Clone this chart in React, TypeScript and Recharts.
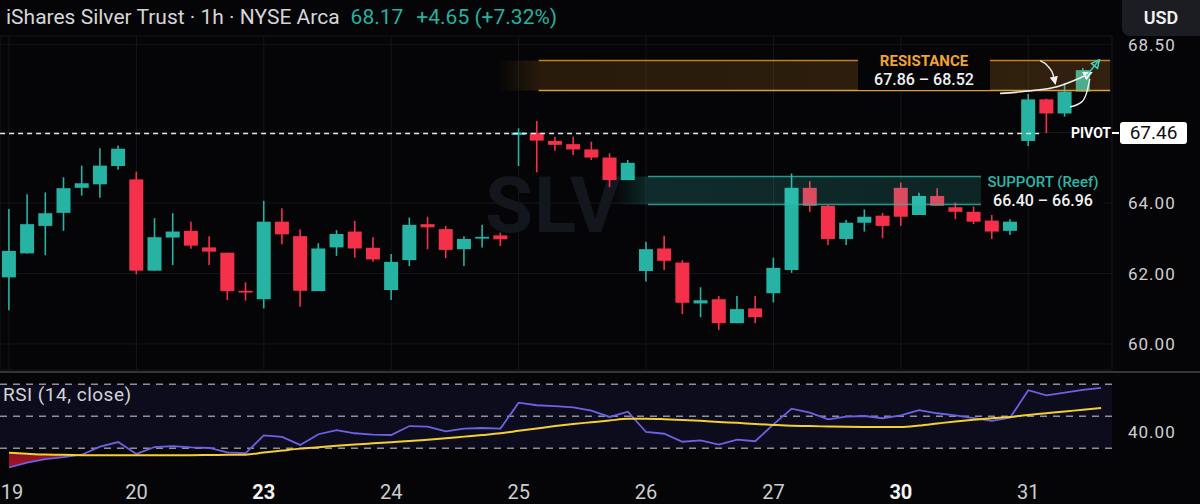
import React from 'react';
import {
  ComposedChart,
  Bar,
  Line,
  Area,
  XAxis,
  YAxis,
  CartesianGrid,
  ReferenceArea,
  ReferenceLine,
} from 'recharts';

// sessions on the time axis, 7 hourly bars each (the last one is still open)
const sessionLabels = ['19', '20', '23', '24', '25', '26', '27', '30', '31'];
const weekStartLabels = ['23', '30'];
const barsPerSession = 7;

const opens = [
  61.89, 62.57, 63.35, 63.72, 64.43, 64.53, 65.05,
  64.67, 62.08, 63.02, 63.21, 62.74, 62.59, 61.51,
  61.27, 63.47, 63.06, 61.5, 62.74, 63.19, 62.73,
  61.53, 62.38, 63.4, 63.26, 62.69, 62.99, 63.08,
  65.93, 65.99, 65.76, 65.67, 65.52, 65.29, 64.65,
  62.07, 62.71, 62.31, 61.15, 61.27, 60.59, 61.01,
  61.44, 62.1, 64.43, 63.92, 62.98, 63.44, 63.64,
  64.43, 63.66, 64.2, 63.88, 63.75, 63.5, 63.21,
  65.76, 66.94, 66.54, 67.16,
];
const highs = [
  63.83, 64.25, 64.3, 64.73, 65.06, 65.55, 65.63,
  64.89, 63.57, 63.71, 63.47, 63.06, 62.59, 61.75,
  64.06, 63.85, 63.25, 62.86, 63.23, 63.49, 63.03,
  62.55, 63.59, 63.61, 63.35, 63.06, 63.38, 63.16,
  66.12, 66.33, 65.88, 65.88, 65.74, 65.41, 65.22,
  62.9, 63.07, 62.38, 61.61, 61.36, 61.36, 61.36,
  62.45, 64.84, 64.62, 63.95, 63.52, 63.82, 63.72,
  64.58, 64.29, 64.42, 64.01, 63.9, 63.66, 63.54,
  67.09, 66.96, 67.4, 67.83,
];
const lows = [
  60.96, 62.57, 62.52, 63.21, 64.21, 64.15, 64.94,
  61.98, 62.08, 62.24, 62.7, 62.24, 61.25, 61.23,
  61.01, 62.83, 61.06, 61.5, 62.5, 62.45, 62.33,
  61.25, 62.21, 62.69, 62.44, 62.21, 62.74, 62.78,
  65.05, 64.87, 65.48, 65.36, 65.22, 64.45, 64.65,
  61.77, 62.1, 60.85, 60.76, 60.4, 60.59, 60.59,
  61.18, 62.02, 63.75, 62.81, 62.81, 63.19, 63.0,
  63.35, 63.66, 63.92, 63.54, 63.4, 62.98, 63.09,
  65.62, 65.98, 66.45, 67.16,
];
const closes = [
  62.64, 63.4, 63.71, 64.42, 64.56, 65.06, 65.54,
  62.08, 63.03, 63.19, 62.79, 62.62, 61.5, 61.46,
  63.47, 63.11, 61.51, 62.71, 63.12, 62.71, 62.4,
  62.33, 63.38, 63.31, 62.67, 62.98, 63.04, 62.97,
  66.0, 65.77, 65.65, 65.52, 65.29, 64.65, 65.14,
  62.69, 62.36, 61.17, 61.24, 60.59, 60.99, 60.76,
  62.16, 64.43, 63.92, 62.98, 63.44, 63.61, 63.35,
  63.61, 64.2, 63.92, 63.75, 63.47, 63.19, 63.47,
  66.94, 66.54, 67.16, 67.77,
];

const rsiValues = [
  18, 21, 23.3, 24.5, 26, 31, 33.9,
  26.5, 30.8, 31.4, 30.6, 30.2, 27.5, 27,
  38.1, 37.1, 32.1, 38.8, 41.3, 39.4, 38.5,
  38.3, 43.9, 43.5, 40.6, 42.3, 42.7, 42.3,
  58.5, 56.9, 56.4, 55.6, 53.5, 49.6, 52.9,
  40.2, 39.1, 34.1, 35, 32.3, 35.4, 34.4,
  45, 54.8, 52.3, 48.1, 49.8, 50.2, 48.8,
  50.6, 53.9, 51.9, 50.6, 48.8, 47.1, 49.1,
  66.3, 63.1, 64.8, 66.5, 67.8,
];
const rsiAverage = [
  27.2, 26.6, 26.1, 25.9, 25.7, 25.6, 25.6,
  25.6, 25.6, 25.7, 25.7, 25.8, 25.9, 26.0,
  27.4, 28.6, 29.8, 30.7, 31.6, 32.4, 33.1,
  33.8, 34.5, 35.4, 36.3, 37.3, 38.3, 39.4,
  40.9, 42.4, 43.9, 45.2, 46.3, 47.4, 48.4,
  48.5, 48.2, 47.7, 47.2, 46.5, 45.9, 45.2,
  44.6, 44.1, 43.9, 43.6, 43.4, 43.3, 43.3,
  43.3, 44.2, 45.5, 46.8, 47.9, 48.8, 49.6,
  50.8, 51.9, 53.0, 54.1, 55.2,
];

const priceTicks = [60, 62, 64, 66, 68.5];
const rsiTicks = [40];
const rsiLevels = [70, 50, 30];
const oversoldLevel = 30;

const titleText = 'iShares Silver Trust · 1h · NYSE Arca';
const lastPrice = '68.17';
const lastChange = '+4.65 (+7.32%)';

// annotation zones, in bar index / price units as drawn on the picture
const resistanceZone = { title: 'RESISTANCE', text: '67.86 – 68.52', fadeFrom: 26.8, from: 29.1, to: 60.5, low: 67.19, high: 68.04 };
const supportZone = { title: 'SUPPORT (Reef)', text: '66.40 – 66.96', fadeFrom: 33.2, from: 35.1, to: 53.4, low: 63.96, high: 64.75 };
const pivot = { label: 'PIVOT', text: '67.46', level: 65.97, to: 56.6 };

const arrowUpper = [
  { x: 54.45, y: 67.11 }, { x: 56.26, y: 67.19 }, { x: 57.58, y: 67.3 }, { x: 58.68, y: 67.51 }, { x: 59.4, y: 67.68 },
];
const arrowLower = [
  { x: 58.3, y: 66.73 }, { x: 58.94, y: 66.87 }, { x: 59.25, y: 67.21 }, { x: 59.38, y: 67.52 },
];
const arrowDown = [
  { x: 56.65, y: 68.04 }, { x: 57.1, y: 67.87 }, { x: 57.37, y: 67.63 }, { x: 57.47, y: 67.42 },
];
const arrowTeal = [
  { x: 59.18, y: 67.6 }, { x: 59.84, y: 68.02 },
];

const UP = '#26b3a3';
const DOWN = '#f5304b';
const X_DOMAIN: [number, number] = [-0.4945, 60.6];

const candles = opens.map((o, i) => ({
  x: i,
  o,
  h: highs[i],
  l: lows[i],
  c: closes[i],
  range: [lows[i], highs[i]],
}));

const rsiData = rsiValues.map((v, i) => {
  const ma = rsiAverage[i];
  const dip = v < oversoldLevel && v < ma;
  return { x: i, rsi: v, ma, oversold: dip ? [v, ma] : [ma, ma] };
});

const sessionTicks = sessionLabels.map((_, i) => i * barsPerSession);

const Candle = (props: any) => {
  const { x, y, width, height, payload } = props;
  if (x == null || y == null || !payload) return null;
  const { o, h, l, c } = payload;
  const color = c >= o ? UP : DOWN;
  const top = Math.min(y, y + height);
  const span = Math.abs(height);
  const py = (v: number) => (h === l ? top : top + ((h - v) / (h - l)) * span);
  const bodyTop = py(Math.max(o, c));
  const bodyBottom = py(Math.min(o, c));
  const cx = x + width / 2;
  return (
    <g>
      <line x1={cx} x2={cx} y1={top} y2={top + span} stroke={color} strokeWidth={1.6} />
      <rect x={x} y={bodyTop} width={width} height={Math.max(bodyBottom - bodyTop, 1.6)} fill={color} />
    </g>
  );
};

const PriceTick = (props: any) => {
  const { x, y, payload } = props;
  return (
    <text x={x} y={y} dy="0.36em" fill="#d0d0d4" fontSize={17} letterSpacing={1}>
      {Number(payload.value).toFixed(2)}
    </text>
  );
};

const DayTick = (props: any) => {
  const { x, y, payload } = props;
  const label = sessionLabels[Math.round(payload.value / barsPerSession)];
  const bold = weekStartLabels.includes(label);
  return (
    <text
      x={Math.max(x, 12)}
      y={y + 20}
      dy="0.36em"
      textAnchor="middle"
      fontSize={20}
      fontWeight={bold ? 700 : 400}
      fill={bold ? '#f4f4f4' : '#cdcdd0'}
    >
      {label}
    </text>
  );
};

export default function App() {
  return (
    <div
      style={{
        position: 'absolute',
        left: 0,
        top: 0,
        width: 1200,
        height: 504,
        overflow: 'hidden',
        background: '#050507',
        fontFamily: 'Roboto, "Noto Sans", sans-serif',
      }}
    >
      <style>{'body{margin:0;background:#050507}'}</style>

      <div
        style={{
          position: 'absolute',
          left: 485,
          top: 160,
          fontSize: 78,
          fontWeight: 700,
          color: '#13161c',
          letterSpacing: 1,
        }}
      >
        SLV
      </div>

      <div style={{ position: 'absolute', left: 0, top: 0 }}>
        <ComposedChart width={1200} height={372} data={candles} margin={{ top: 36, right: 0, bottom: 2, left: 0 }}>
          <defs>
            <linearGradient id="resFill" x1="0" y1="0" x2="1" y2="0">
              <stop offset="0" stopColor="rgb(235,150,40)" stopOpacity={0} />
              <stop offset="0.07" stopColor="rgb(235,150,40)" stopOpacity={0.15} />
              <stop offset="1" stopColor="rgb(235,150,40)" stopOpacity={0.19} />
            </linearGradient>
            <linearGradient id="supFill" x1="0" y1="0" x2="1" y2="0">
              <stop offset="0" stopColor="rgb(65,230,220)" stopOpacity={0} />
              <stop offset="0.1" stopColor="rgb(65,230,220)" stopOpacity={0.17} />
              <stop offset="1" stopColor="rgb(65,230,220)" stopOpacity={0.14} />
            </linearGradient>
            <marker id="headWhite" viewBox="0 0 10 10" refX="7" refY="5" markerWidth="6" markerHeight="6" orient="auto">
              <path d="M0,0 L10,5 L0,10 z" fill="#f2f2f2" />
            </marker>
            <marker id="headTeal" viewBox="0 0 10 10" refX="7" refY="5" markerWidth="7" markerHeight="7" orient="auto">
              <path d="M1,1 L9,5 L1,9 z" fill="none" stroke="#3fd6c4" strokeWidth={1.5} />
            </marker>
          </defs>
          <CartesianGrid stroke="#14161b" strokeWidth={1} />
          <XAxis
            dataKey="x"
            type="number"
            domain={X_DOMAIN}
            ticks={sessionTicks}
            allowDataOverflow
            hide
          />
          <XAxis xAxisId="ann" dataKey="x" type="number" domain={X_DOMAIN} allowDataOverflow hide />
          <YAxis
            orientation="right"
            width={88}
            domain={[59.262, 68.738]}
            ticks={priceTicks}
            allowDataOverflow
            axisLine={false}
            tickLine={false}
            tickSize={0}
            tickMargin={16}
            tick={<PriceTick />}
          />
          <Bar dataKey="range" barSize={14} shape={<Candle />} isAnimationActive={false} />

          <ReferenceArea
            x1={resistanceZone.fadeFrom}
            x2={resistanceZone.to}
            y1={resistanceZone.low}
            y2={resistanceZone.high}
            fill="url(#resFill)"
            fillOpacity={1}
            stroke="none"
            ifOverflow="visible"
            zIndex={350}
          />
          <ReferenceLine
            segment={[{ x: resistanceZone.from, y: resistanceZone.high }, { x: resistanceZone.to, y: resistanceZone.high }]}
            stroke="#c47d24"
            strokeWidth={1.5}
            ifOverflow="visible"
          />
          <ReferenceLine
            segment={[{ x: resistanceZone.from, y: resistanceZone.low }, { x: resistanceZone.to, y: resistanceZone.low }]}
            stroke="#dc9c40"
            strokeWidth={1.5}
            ifOverflow="visible"
          />

          <ReferenceArea
            x1={supportZone.fadeFrom}
            x2={supportZone.to}
            y1={supportZone.low}
            y2={supportZone.high}
            fill="url(#supFill)"
            fillOpacity={1}
            stroke="none"
            ifOverflow="visible"
            zIndex={350}
          />
          <ReferenceLine
            segment={[{ x: supportZone.from, y: supportZone.high }, { x: supportZone.to, y: supportZone.high }]}
            stroke="#2fb7a8"
            strokeOpacity={0.8}
            strokeWidth={1.5}
            ifOverflow="visible"
          />
          <ReferenceLine
            segment={[{ x: supportZone.from, y: supportZone.low }, { x: supportZone.to, y: supportZone.low }]}
            stroke="#2fb7a8"
            strokeOpacity={0.8}
            strokeWidth={1.5}
            ifOverflow="visible"
          />

          <ReferenceLine
            segment={[{ x: -0.49, y: pivot.level }, { x: pivot.to, y: pivot.level }]}
            stroke="#e6e6e6"
            strokeWidth={1.5}
            strokeDasharray="5 4"
            ifOverflow="visible"
          />

          <Line
            xAxisId="ann"
            data={arrowUpper}
            dataKey="y"
            type="monotone"
            stroke="#efefef"
            strokeWidth={1.6}
            dot={false}
            markerEnd="url(#headWhite)"
            isAnimationActive={false}
          />
          <Line
            xAxisId="ann"
            data={arrowLower}
            dataKey="y"
            type="monotone"
            stroke="#efefef"
            strokeWidth={1.4}
            dot={false}
            isAnimationActive={false}
          />
          <Line
            xAxisId="ann"
            data={arrowDown}
            dataKey="y"
            type="monotone"
            stroke="#efefef"
            strokeWidth={1.4}
            dot={false}
            markerEnd="url(#headWhite)"
            isAnimationActive={false}
          />
          <Line
            xAxisId="ann"
            data={arrowTeal}
            dataKey="y"
            type="linear"
            stroke="#3fd6c4"
            strokeWidth={1.4}
            dot={false}
            markerEnd="url(#headTeal)"
            isAnimationActive={false}
          />
        </ComposedChart>
      </div>

      <div style={{ position: 'absolute', left: 0, top: 371, width: 1200, height: 2, background: '#34343a' }} />

      <div style={{ position: 'absolute', left: 0, top: 372 }}>
        <ComposedChart width={1200} height={132} data={rsiData} margin={{ top: 6, right: 0, bottom: 0, left: 0 }}>
          <defs>
            <linearGradient id="oversoldFill" x1="0" y1="0" x2="0" y2="1">
              <stop offset="0" stopColor="#3a070d" stopOpacity={0.9} />
              <stop offset="1" stopColor="#b0162b" stopOpacity={0.95} />
            </linearGradient>
          </defs>
          <ReferenceArea y1={30} y2={70} fill="#0c0c1c" fillOpacity={1} stroke="none" />
          <XAxis
            dataKey="x"
            type="number"
            domain={X_DOMAIN}
            ticks={sessionTicks}
            allowDataOverflow
            axisLine={false}
            tickLine={false}
            tickSize={0}
            tickMargin={0}
            height={32}
            tick={<DayTick />}
          />
          <YAxis
            orientation="right"
            width={88}
            domain={[15.19, 73.94]}
            ticks={rsiTicks}
            allowDataOverflow
            axisLine={false}
            tickLine={false}
            tickSize={0}
            tickMargin={16}
            tick={<PriceTick />}
          />
          {rsiLevels.map((lvl) => (
            <ReferenceLine key={lvl} y={lvl} stroke="#8f8f9c" strokeWidth={1.5} strokeDasharray="7 6" />
          ))}
          <Area
            dataKey="oversold"
            type="monotone"
            stroke="none"
            fill="url(#oversoldFill)"
            fillOpacity={1}
            isAnimationActive={false}
          />
          <Line dataKey="rsi" type="linear" stroke="#6c62e6" strokeWidth={1.8} dot={false} isAnimationActive={false} />
          <Line dataKey="ma" type="monotone" stroke="#f3cf34" strokeWidth={2} dot={false} isAnimationActive={false} />
        </ComposedChart>
      </div>

      {/* header */}
      <div
        style={{
          position: 'absolute',
          left: 6,
          top: 3,
          fontSize: 21,
          lineHeight: '28px',
          color: '#d6d6da',
          whiteSpace: 'nowrap',
        }}
      >
        {titleText}
        <span style={{ color: '#22b3a0', marginLeft: 11 }}>{lastPrice}</span>
        <span style={{ color: '#22b3a0', marginLeft: 13 }}>{lastChange}</span>
      </div>
      <div
        style={{
          position: 'absolute',
          left: 1122,
          top: 0,
          width: 78,
          height: 36,
          background: '#1c1d22',
          borderBottomLeftRadius: 8,
          color: '#f0f0f0',
          fontSize: 18,
          fontWeight: 600,
          lineHeight: '36px',
          textAlign: 'center',
        }}
      >
        USD
      </div>

      <div
        style={{
          position: 'absolute',
          left: 3,
          top: 383,
          fontSize: 19,
          lineHeight: '24px',
          letterSpacing: 0.5,
          color: '#d4d4d8',
        }}
      >
        RSI (14, close)
      </div>

      {/* zone labels */}
      <div
        style={{
          position: 'absolute',
          left: 858,
          top: 50,
          width: 132,
          height: 40,
          background: '#050507',
          textAlign: 'center',
        }}
      >
        <div style={{ color: '#f0a334', fontSize: 15, fontWeight: 700, lineHeight: '20px', marginTop: 1 }}>
          {resistanceZone.title}
        </div>
        <div style={{ color: '#f2f2f2', fontSize: 16, fontWeight: 500, lineHeight: '18px' }}>{resistanceZone.text}</div>
      </div>
      <div
        style={{
          position: 'absolute',
          left: 982,
          top: 171,
          width: 122,
          height: 38,
          background: '#050507',
          textAlign: 'center',
        }}
      >
        <div style={{ color: '#2cb8a8', fontSize: 15, fontWeight: 500, lineHeight: '20px', marginTop: 1 }}>
          {supportZone.title}
        </div>
        <div style={{ color: '#f2f2f2', fontSize: 16, fontWeight: 500, lineHeight: '17px' }}>{supportZone.text}</div>
      </div>

      {/* pivot tag */}
      <div
        style={{
          position: 'absolute',
          left: 1071,
          top: 124,
          color: '#ffffff',
          fontSize: 14,
          fontWeight: 700,
          lineHeight: '18px',
        }}
      >
        {pivot.label}
      </div>
      <div style={{ position: 'absolute', left: 1112, top: 132, width: 7, height: 2, background: '#ffffff' }} />
      <div
        style={{
          position: 'absolute',
          left: 1120,
          top: 122,
          width: 67,
          height: 22,
          background: '#ffffff',
          borderRadius: 3,
          color: '#111111',
          fontSize: 19,
          lineHeight: '22px',
          textAlign: 'center',
        }}
      >
        {pivot.text}
      </div>
    </div>
  );
}
